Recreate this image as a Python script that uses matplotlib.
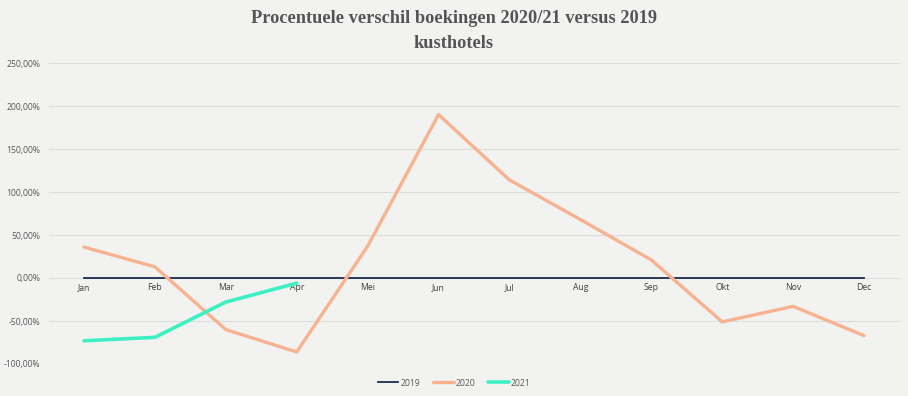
import numpy as np
import matplotlib.pyplot as plt
from matplotlib.ticker import FuncFormatter

months = ['Jan', 'Feb', 'Mar', 'Apr', 'Mei', 'Jun', 'Jul', 'Aug', 'Sep', 'Okt', 'Nov', 'Dec']
v2019 = [0, 0, 0, 0, 0, 0, 0, 0, 0, 0, 0, 0]
v2020 = [36, 13, -60, -86, 37, 190, 114, 68, 21, -51, -33, -67]
v2021 = [-73, -69, -28, -6]

bg = '#f2f2f1'
fig = plt.figure(figsize=(9.08, 3.96), dpi=100, facecolor=bg)
ax = fig.add_axes([48.5 / 908, 1 - 364 / 396, 851 / 908, 301 / 396])
ax.set_facecolor(bg)

x = np.arange(len(months))
ax.plot(x, v2019, color='#1c2b4f', lw=1.3, label='2019', zorder=3)
ax.plot(x, v2020, color='#f7b390', lw=2.4, label='2020', zorder=4, solid_capstyle='round')
ax.plot(x[:len(v2021)], v2021, color='#3df0c3', lw=2.6, label='2021', zorder=5, solid_capstyle='round')

ax.set_xlim(-0.5, 11.5)
ax.set_ylim(-100, 250)
ax.set_yticks(np.arange(-100, 251, 50))
ax.yaxis.set_major_formatter(FuncFormatter(lambda v, p: f'{v:.2f}'.replace('.', ',') + '%'))
ax.grid(axis='y', color='#dddddd', lw=0.8)
ax.set_axisbelow(True)
for s in ax.spines.values():
    s.set_visible(False)
ax.tick_params(axis='y', length=0, labelsize=6.2, labelcolor='#595959', pad=6)
for t in ax.get_yticklabels():
    t.set_family('Open Sans')

ax.set_xticks(x)
ax.set_xticklabels([])
ax.tick_params(axis='x', length=0)
for i, m in enumerate(months):
    ax.text(i, -6, m, ha='center', va='top', fontsize=6.2, color='#404040', family='Open Sans')

fig.text(0.5, 1 - 31 / 396, 'Procentuele verschil boekingen 2020/21 versus 2019\nkusthotels',
         ha='center', va='center', fontsize=13.2, fontweight='bold', color='#555555',
         family='Liberation Serif', linespacing=1.55)

leg = fig.legend(loc='center', bbox_to_anchor=(0.5, 1 - 383 / 396), ncol=3, frameon=False,
                 prop={'family': 'Open Sans', 'size': 6.2}, handlelength=2.4,
                 handletextpad=0.2, columnspacing=1.5)
for t in leg.get_texts():
    t.set_color('#595959')

fig.savefig('out.png', dpi=100, facecolor=bg)
